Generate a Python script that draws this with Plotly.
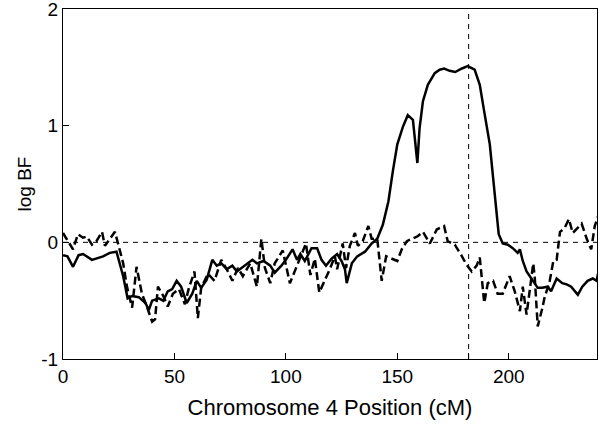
import plotly.graph_objects as go

# Solid curve
solid_x = [0, 2, 4.5, 7, 9, 13, 18, 21, 24, 27, 29, 31, 34, 37, 38.5, 40, 43, 45, 47, 49,
           51, 53, 55.5, 58, 60, 62, 64.5, 67, 69, 71, 73.5, 76, 78, 80, 82.5, 85, 87, 90,
           93, 95, 98, 100, 103, 105, 106.5, 108.5, 111.5, 114, 116, 118, 120.5, 123, 125,
           126.5, 127.3, 129.6, 132, 135.5, 138.5, 141, 143.5, 146, 148, 150, 152.5, 154.7,
           157, 159, 160, 161.5, 163.7, 166.8, 169, 171, 173.5, 176, 179, 181.6, 184.7, 187,
           189, 191.5, 193, 194.6, 195.5, 197.3, 199.6, 201.8, 204, 205, 206.3, 208, 210,
           211.7, 213, 215, 217.5, 219, 221.5, 224, 226, 228, 231, 233, 235.4, 237.7, 239.5, 240]
solid_y = [-0.11, -0.12, -0.21, -0.11, -0.10, -0.15, -0.12, -0.09, -0.08, -0.29, -0.48, -0.46,
           -0.47, -0.52, -0.58, -0.50, -0.48, -0.50, -0.42, -0.40, -0.33, -0.38, -0.52, -0.44,
           -0.33, -0.39, -0.32, -0.15, -0.20, -0.18, -0.23, -0.20, -0.25, -0.22, -0.18, -0.15,
           -0.18, -0.16, -0.20, -0.26, -0.20, -0.15, -0.06, -0.15, -0.10, -0.16, -0.05, -0.05,
           -0.15, -0.20, -0.14, -0.10, -0.16, -0.23, -0.35, -0.18, -0.12, -0.08, -0.01, 0.03,
           0.15, 0.35, 0.61, 0.84, 0.99, 1.09, 1.05, 0.68, 0.98, 1.21, 1.35, 1.45, 1.48, 1.49,
           1.47, 1.46, 1.49, 1.51, 1.48, 1.35, 1.12, 0.84, 0.55, 0.27, 0.07, -0.01, -0.02, -0.05,
           -0.09, -0.06, -0.16, -0.25, -0.31, -0.36, -0.39, -0.39, -0.38, -0.42, -0.31, -0.35,
           -0.36, -0.38, -0.45, -0.38, -0.33, -0.31, -0.33, -0.27]

# Dashed curve
dash_x = [0, 2.2, 4.5, 6.7, 9, 10.7, 13, 15, 17.5, 18.8, 21, 23.3, 24.7, 27, 28.7, 31, 33,
          35.4, 37.6, 40, 41.3, 42.6, 45, 47, 49.3, 52, 54.7, 56.5, 59, 60.5, 62, 65, 68, 71,
          74, 76, 78.5, 80.7, 84, 87, 89, 90.6, 93, 95, 98.6, 101.8, 105, 107, 109, 111, 113,
          115, 117.5, 119.7, 122, 123, 125.5, 127, 128.7, 131, 132.3, 134.5, 137, 138.5, 141,
          143, 145, 147.5, 150, 152, 154.3, 156.5, 159, 161.5, 164.6, 167.7, 171, 172.6, 175.8,
          179, 181, 183.4, 185.6, 187, 189, 190.6, 193, 195, 197.3, 200.4, 202.7, 205, 206.3,
          208, 209.6, 211, 211.7, 213, 215, 216, 218.4, 220, 221.5, 223, 225, 227, 228.7,
          230.5, 232.7, 235, 237, 238.6, 240]
dash_y = [0.08, 0.01, -0.06, 0.07, 0.04, 0.05, -0.02, 0.01, 0.09, -0.03, 0.03, 0.09, -0.01,
          -0.18, -0.38, -0.56, -0.21, -0.44, -0.55, -0.68, -0.66, -0.38, -0.46, -0.55, -0.44,
          -0.40, -0.53, -0.39, -0.25, -0.65, -0.39, -0.27, -0.33, -0.15, -0.25, -0.33, -0.22,
          -0.29, -0.18, -0.38, 0.03, -0.22, -0.35, -0.18, -0.07, -0.35, -0.20, -0.10, -0.01,
          -0.28, -0.14, -0.43, -0.33, -0.23, -0.12, -0.23, -0.01, -0.22, -0.03, 0.08, -0.03,
          0.01, 0.14, 0.03, 0.03, -0.33, -0.12, -0.14, -0.16, -0.06, 0.01, 0.03, 0.05, 0.09,
          -0.01, 0.11, 0.14, 0.01, -0.02, -0.12, -0.19, -0.25, -0.20, -0.13, -0.52, -0.35,
          -0.33, -0.44, -0.44, -0.29, -0.42, -0.59, -0.38, -0.62, -0.38, -0.18, -0.31, -0.72,
          -0.57, -0.48, -0.33, -0.16, -0.15, 0.09, 0.12, 0.20, 0.08, 0.12, 0.16, 0.03, -0.06,
          0.14, 0.22]

peak_pos = 182
x_tickvals = [0, 50, 100, 150, 182, 200]
x_ticktext = ["0", "50", "100", "150", "", "200"]
y_tickvals = [-1, 0, 1, 2]
y_ticktext = ["-1", "0", "1", "2"]

FONT = "Liberation Sans, Arial, sans-serif"

fig = go.Figure()
fig.add_trace(go.Scatter(x=solid_x, y=solid_y, mode="lines",
                         line=dict(color="black", width=2.5), showlegend=False))
fig.add_trace(go.Scatter(x=dash_x, y=dash_y, mode="lines",
                         line=dict(color="black", width=2.5, dash="8px,4px"), showlegend=False))

fig.add_hline(y=0, line=dict(color="black", width=1, dash="5px,5px"))
fig.add_vline(x=peak_pos, line=dict(color="black", width=1, dash="5px,5px"))

fig.update_layout(
    width=600, height=424,
    margin=dict(l=63, r=3, t=9, b=65, autoexpand=False),
    plot_bgcolor="white", paper_bgcolor="white",
    font=dict(family=FONT, size=19, color="black"),
)
fig.update_xaxes(range=[0, 239.6], tickvals=x_tickvals, ticktext=x_ticktext,
                 ticks="inside", ticklen=6, tickcolor="black",
                 showline=True, linecolor="black", linewidth=1, mirror=True,
                 showgrid=False, zeroline=False, automargin=False,
                 ticklabeloverflow="allow",
                 title=dict(text="Chromosome 4 Position (cM)", font=dict(size=22), standoff=13),
                 tickfont=dict(size=19))
fig.update_yaxes(range=[-1, 2], tickvals=y_tickvals, ticktext=y_ticktext,
                 ticks="inside", ticklen=6, tickcolor="black",
                 showline=True, linecolor="black", linewidth=1, mirror=True,
                 showgrid=False, zeroline=False, automargin=False,
                 ticklabeloverflow="allow",
                 title=dict(text="log BF", font=dict(size=19), standoff=4),
                 tickfont=dict(size=19))

fig.write_html("out.html",
               config={"displayModeBar": False, "staticPlot": True},
               post_script="document.body.style.margin='0';document.body.style.overflow='hidden';")
